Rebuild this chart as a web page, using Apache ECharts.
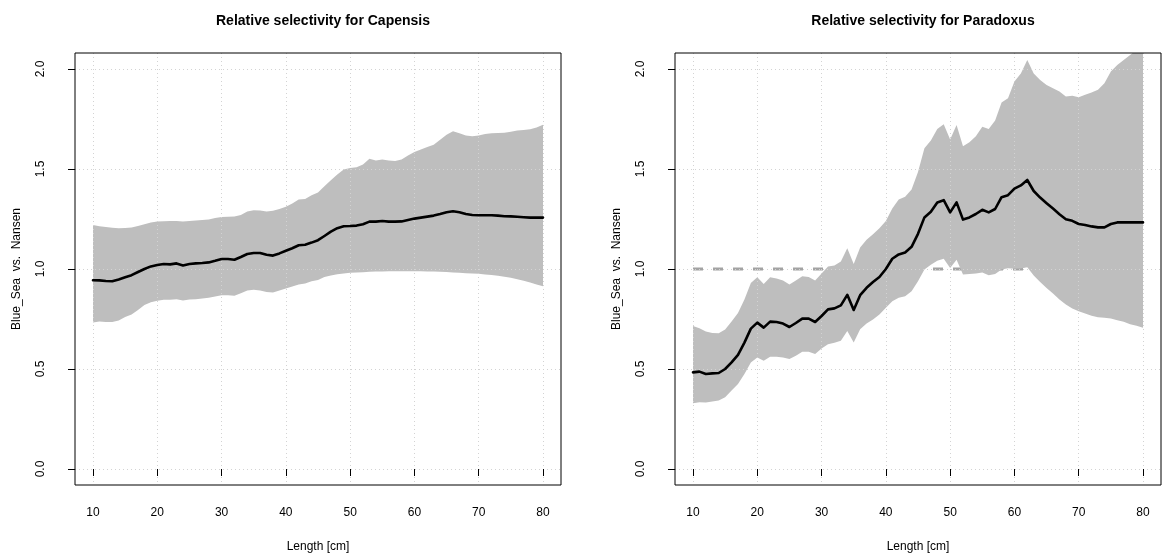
<!DOCTYPE html>
<html><head><meta charset="utf-8">
<script src="https://cdn.jsdelivr.net/npm/echarts@6/dist/echarts.min.js"></script>
<style>html,body{margin:0;padding:0;background:#fff}#c{width:1162px;height:558px}</style>
</head><body><div id="c"></div>
<script>
const lengths = [10,11,12,13,14,15,16,17,18,19,20,21,22,23,24,25,26,27,28,29,30,31,32,33,34,35,36,37,38,39,40,41,42,43,44,45,46,47,48,49,50,51,52,53,54,55,56,57,58,59,60,61,62,63,64,65,66,67,68,69,70,71,72,73,74,75,76,77,78,79,80];

const capMean = [0.944,0.943,0.940,0.939,0.948,0.959,0.969,0.985,1.000,1.013,1.020,1.025,1.023,1.028,1.018,1.025,1.028,1.030,1.033,1.041,1.050,1.050,1.046,1.060,1.075,1.080,1.080,1.071,1.067,1.078,1.091,1.104,1.119,1.121,1.132,1.144,1.165,1.187,1.204,1.214,1.215,1.217,1.224,1.237,1.237,1.240,1.237,1.237,1.238,1.245,1.252,1.257,1.262,1.267,1.275,1.284,1.289,1.284,1.275,1.270,1.269,1.269,1.269,1.267,1.264,1.263,1.261,1.259,1.257,1.257,1.257];
const capUpper = [1.220,1.214,1.210,1.206,1.204,1.205,1.207,1.215,1.224,1.232,1.237,1.239,1.240,1.240,1.237,1.240,1.242,1.245,1.248,1.255,1.260,1.261,1.262,1.270,1.287,1.294,1.292,1.287,1.291,1.300,1.311,1.328,1.348,1.350,1.369,1.383,1.414,1.444,1.472,1.497,1.505,1.509,1.522,1.551,1.543,1.548,1.542,1.540,1.548,1.568,1.585,1.598,1.610,1.621,1.646,1.671,1.689,1.679,1.667,1.664,1.667,1.675,1.679,1.680,1.681,1.686,1.692,1.695,1.699,1.708,1.721];
const capLower = [0.732,0.737,0.735,0.735,0.743,0.760,0.773,0.795,0.820,0.834,0.841,0.846,0.846,0.849,0.843,0.848,0.849,0.852,0.856,0.862,0.869,0.869,0.866,0.879,0.892,0.896,0.892,0.885,0.882,0.892,0.902,0.912,0.922,0.927,0.939,0.945,0.960,0.968,0.974,0.978,0.981,0.982,0.984,0.986,0.987,0.988,0.989,0.989,0.989,0.989,0.989,0.989,0.988,0.987,0.986,0.985,0.983,0.981,0.979,0.978,0.976,0.973,0.970,0.966,0.961,0.956,0.949,0.941,0.932,0.923,0.914];

const parMean = [0.483,0.487,0.475,0.478,0.480,0.500,0.533,0.571,0.632,0.702,0.732,0.707,0.737,0.735,0.727,0.710,0.730,0.752,0.752,0.735,0.765,0.798,0.803,0.818,0.871,0.795,0.869,0.906,0.935,0.960,1.000,1.051,1.073,1.083,1.111,1.176,1.258,1.286,1.333,1.344,1.283,1.333,1.247,1.258,1.275,1.296,1.283,1.300,1.359,1.369,1.402,1.418,1.445,1.390,1.357,1.329,1.302,1.274,1.249,1.241,1.225,1.220,1.213,1.208,1.208,1.225,1.233,1.233,1.233,1.233,1.233];
const parUpper = [0.715,0.704,0.687,0.680,0.679,0.697,0.737,0.780,0.848,0.930,0.959,0.925,0.959,0.952,0.942,0.922,0.942,0.964,0.960,0.942,0.978,1.013,1.018,1.038,1.104,1.025,1.108,1.146,1.174,1.204,1.240,1.303,1.348,1.361,1.397,1.485,1.604,1.642,1.700,1.724,1.647,1.720,1.614,1.634,1.664,1.711,1.700,1.742,1.832,1.854,1.937,1.978,2.045,1.978,1.945,1.920,1.904,1.887,1.862,1.866,1.859,1.871,1.882,1.896,1.929,1.987,2.020,2.045,2.070,2.095,2.120];
const parLower = [0.329,0.334,0.333,0.338,0.343,0.359,0.392,0.425,0.475,0.533,0.558,0.541,0.561,0.561,0.558,0.550,0.566,0.586,0.586,0.575,0.603,0.624,0.631,0.641,0.690,0.632,0.699,0.727,0.748,0.773,0.806,0.839,0.856,0.864,0.889,0.939,0.997,1.021,1.041,1.051,1.005,1.046,0.972,0.975,0.977,0.983,0.969,0.975,0.998,1.004,1.001,1.003,1.009,0.968,0.935,0.905,0.877,0.848,0.822,0.802,0.789,0.777,0.766,0.759,0.756,0.752,0.744,0.736,0.724,0.716,0.706];

const xTicks = [10,20,30,40,50,60,70,80];
const yTicks = [0,0.5,1,1.5,2];
const refLine = [[10,1],[80,1]];
const titles = ['Relative selectivity for Capensis','Relative selectivity for Paradoxus'];
const xName = 'Length [cm]';
const yName = 'Blue_Sea  vs.  Nansen';

const FONT = '"Liberation Sans", Arial, Helvetica, sans-serif';
const panels = [
  {mean: capMean, upper: capUpper, lower: capLower, left: 75},
  {mean: parMean, upper: parUpper, lower: parLower, left: 675}
];
const PW = 486, PTOP = 53, PH = 435;

const grid = [], xAxis = [], yAxis = [], series = [], title = [];
panels.forEach((p, i) => {
  grid.push({left: p.left, top: PTOP, width: PW, height: PH, show: true,
    borderColor: '#000', borderWidth: 1, backgroundColor: 'transparent', z: 10});
  title.push({text: titles[i], left: p.left + PW / 2, top: 9, textAlign: 'center',
    textStyle: {fontFamily: FONT, fontSize: 14, fontWeight: 'bold', color: '#000'}});
  xAxis.push({type: 'value', gridIndex: i, min: 7.2, max: 82.8, z: 3,
    axisLine: {show: false},
    axisTick: {show: true, length: 7, customValues: xTicks, lineStyle: {color: '#000', width: 1}},
    axisLabel: {customValues: xTicks, margin: 22, fontSize: 12, color: '#000', fontFamily: FONT},
    splitLine: {show: true, lineStyle: {color: '#D3D3D3', width: 1, type: [1, 3]}},
    name: xName, nameLocation: 'middle', nameGap: 56,
    nameTextStyle: {fontFamily: FONT, fontSize: 12, color: '#000'}});
  yAxis.push({type: 'value', gridIndex: i, min: -0.08, max: 2.08, z: 3,
    axisLine: {show: false},
    axisTick: {show: true, length: 7, customValues: yTicks, lineStyle: {color: '#000', width: 1}},
    axisLabel: {customValues: yTicks, rotate: 90, margin: 28, fontSize: 12, color: '#000', fontFamily: FONT,
      formatter: v => Number(v).toFixed(1)},
    splitLine: {show: true, lineStyle: {color: '#D3D3D3', width: 1, type: [1, 3]}},
    name: yName, nameLocation: 'middle', nameGap: 52, nameRotate: 90,
    nameTextStyle: {fontFamily: FONT, fontSize: 12, color: '#000'}});
  series.push({type: 'line', xAxisIndex: i, yAxisIndex: i, data: refLine, symbol: 'none', silent: true,
    lineStyle: {color: '#A3A3A3', width: 3, type: [10, 10]}, z: 1, animation: false});
  series.push({type: 'custom', xAxisIndex: i, yAxisIndex: i, clip: true, z: 2, silent: true, animation: false,
    data: lengths.map((x, k) => [x, p.lower[k], p.upper[k]]),
    encode: {x: 0, y: [1, 2]},
    renderItem: (params, api) => {
      if (params.dataIndex !== 0) return null;
      const pts = [];
      for (let k = 0; k < lengths.length; k++) pts.push(api.coord([lengths[k], p.upper[k]]));
      for (let k = lengths.length - 1; k >= 0; k--) pts.push(api.coord([lengths[k], p.lower[k]]));
      const cs = params.coordSys;
      return {type: 'polygon', shape: {points: pts}, style: {fill: '#BEBEBE', stroke: null},
        clipPath: {type: 'rect', shape: {x: cs.x, y: cs.y, width: cs.width, height: cs.height}}};
    }});
  series.push({type: 'line', xAxisIndex: i, yAxisIndex: i, symbol: 'none', silent: true, animation: false,
    data: lengths.map((x, k) => [x, p.mean[k]]), clip: true,
    lineStyle: {color: '#000', width: 2.6, join: 'round', cap: 'round'}, z: 5});
});

const chart = echarts.init(document.getElementById('c'), null, {renderer: 'canvas'});
chart.setOption({backgroundColor: '#fff', animation: false, title, grid, xAxis, yAxis, series});
</script></body></html>
